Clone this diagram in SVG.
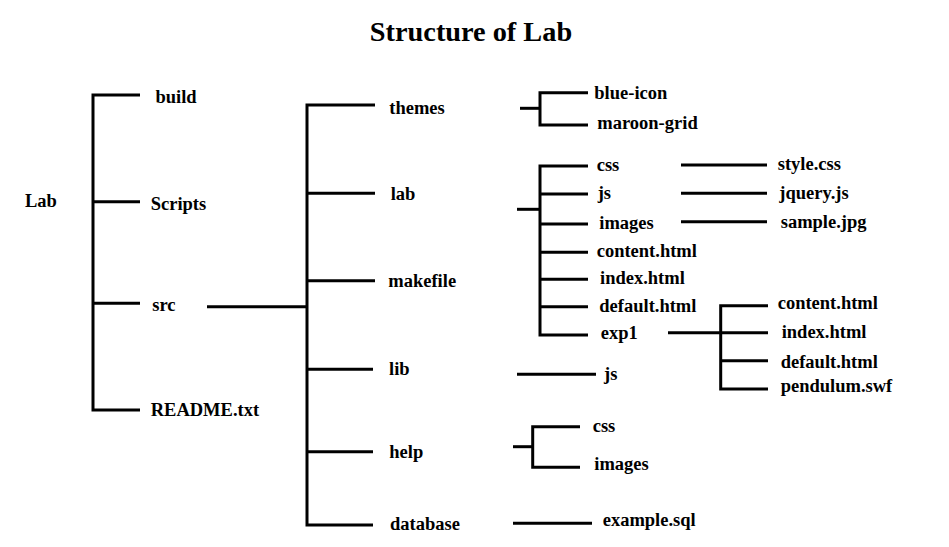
<svg xmlns="http://www.w3.org/2000/svg" width="949" height="547" viewBox="0 0 949 547">
<style>
text{font-family:"Liberation Serif","Times New Roman",serif;font-weight:bold;font-size:18.5px;fill:#000}
g[id^="n-"] text{transform:translate(0px,1px)}
.title{font-size:28.3px}
.c line,.c polyline{stroke:#000;stroke-width:3;fill:none}
</style>
<rect width="949" height="547" fill="#fff"/>
<text class="title" x="471" y="41" text-anchor="middle">Structure of Lab</text>
<g class="c" id="connectors">
<polyline points="140,95 93,95 93,410 140,410"/>
<line x1="93" y1="201.7" x2="140" y2="201.7"/>
<line x1="93" y1="303.3" x2="140" y2="303.3"/>
<line x1="207" y1="306.7" x2="307" y2="306.7"/>
<polyline points="375,105 307,105 307,525 373,525"/>
<line x1="307" y1="193.3" x2="375" y2="193.3"/>
<line x1="307" y1="280.7" x2="375" y2="280.7"/>
<line x1="307" y1="369.3" x2="373" y2="369.3"/>
<line x1="307" y1="451.7" x2="373" y2="451.7"/>
<line x1="520" y1="108.3" x2="540" y2="108.3"/>
<polyline points="588,92.7 540,92.7 540,125 588,125"/>
<line x1="517" y1="209.3" x2="540" y2="209.3"/>
<polyline points="588,166 540,166 540,335 588,335"/>
<line x1="540" y1="194" x2="588" y2="194"/>
<line x1="540" y1="224" x2="588" y2="224"/>
<line x1="540" y1="252.3" x2="588" y2="252.3"/>
<line x1="540" y1="279.3" x2="588" y2="279.3"/>
<line x1="540" y1="306.7" x2="588" y2="306.7"/>
<line x1="681" y1="165" x2="767" y2="165"/>
<line x1="681" y1="193.3" x2="767" y2="193.3"/>
<line x1="681" y1="221.7" x2="767" y2="221.7"/>
<line x1="668" y1="332.7" x2="768" y2="332.7"/>
<polyline points="768,305.7 720.7,305.7 720.7,389 768,389"/>
<line x1="720.7" y1="360.7" x2="768" y2="360.7"/>
<line x1="517" y1="374.3" x2="596" y2="374.3"/>
<line x1="513" y1="446.7" x2="532.7" y2="446.7"/>
<polyline points="580,426.7 532.7,426.7 532.7,467.3 580,467.3"/>
<line x1="513" y1="523.3" x2="592" y2="523.3"/>
</g>
<g id="n-lab"><text x="25" y="206">Lab</text></g>
<g id="n-build"><text x="155.5" y="101.7">build</text></g>
<g id="n-scripts"><text x="150.7" y="208.5">Scripts</text></g>
<g id="n-src"><text x="152.3" y="310">src</text></g>
<g id="n-readme"><text x="150.7" y="415">README.txt</text></g>
<g id="n-themes"><text x="389.3" y="112.7">themes</text></g>
<g id="n-lab2"><text x="390.7" y="199.3">lab</text></g>
<g id="n-makefile"><text x="388.3" y="286">makefile</text></g>
<g id="n-lib"><text x="389" y="374.3">lib</text></g>
<g id="n-help"><text x="389.3" y="456.7">help</text></g>
<g id="n-database"><text x="390" y="529">database</text></g>
<g id="n-blueicon"><text x="594.3" y="98.3">blue-icon</text></g>
<g id="n-maroongrid"><text x="597.3" y="128.3">maroon-grid</text></g>
<g id="n-css"><text x="596.7" y="170">css</text></g>
<g id="n-js"><text x="597.7" y="198.3">js</text></g>
<g id="n-images"><text x="599.3" y="228.3">images</text></g>
<g id="n-content"><text x="596.7" y="255.7">content.html</text></g>
<g id="n-index"><text x="600" y="283.3">index.html</text></g>
<g id="n-default"><text x="599.3" y="310.7">default.html</text></g>
<g id="n-exp1"><text x="600.7" y="337.7">exp1</text></g>
<g id="n-stylecss"><text x="777.7" y="169.3">style.css</text></g>
<g id="n-jquery"><text x="779.3" y="197.7">jquery.js</text></g>
<g id="n-sample"><text x="780.7" y="226.7">sample.jpg</text></g>
<g id="n-content2"><text x="777.7" y="308.3">content.html</text></g>
<g id="n-index2"><text x="781.7" y="336.7">index.html</text></g>
<g id="n-default2"><text x="780.7" y="366.7">default.html</text></g>
<g id="n-pendulum"><text x="780.7" y="391">pendulum.swf</text></g>
<g id="n-libjs"><text x="604" y="379.3">js</text></g>
<g id="n-helpcss"><text x="592.7" y="430.7">css</text></g>
<g id="n-helpimages"><text x="594.3" y="469.3">images</text></g>
<g id="n-examplesql"><text x="602.7" y="525">example.sql</text></g>
</svg>
